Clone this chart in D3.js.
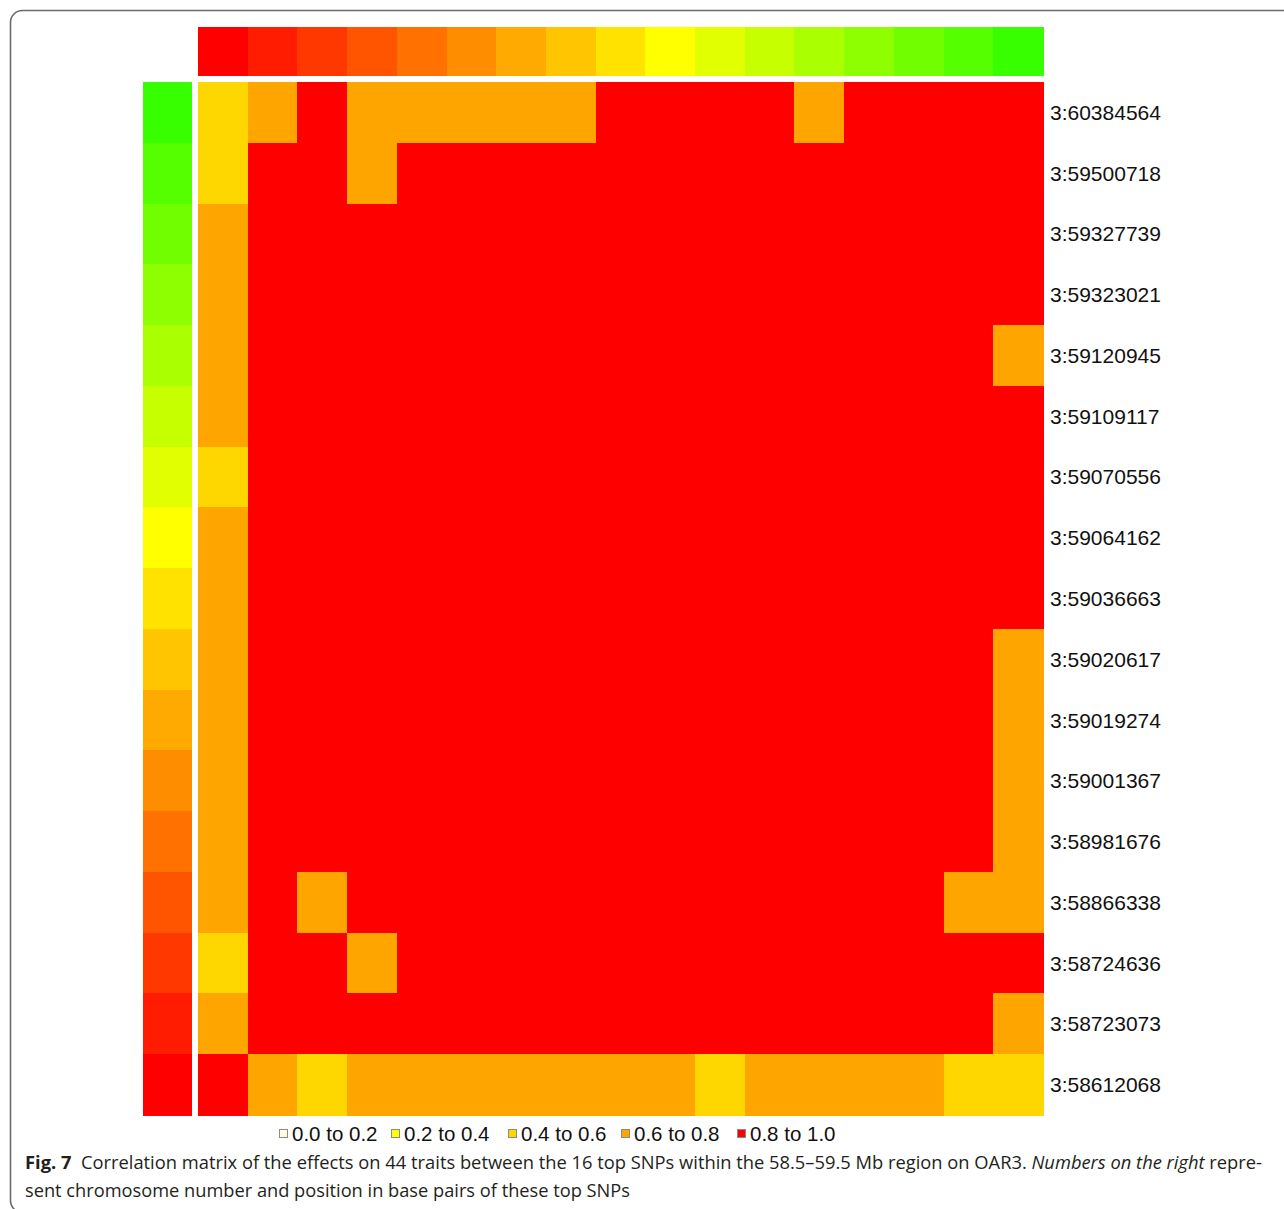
<!DOCTYPE html>
<html>
<head>
<meta charset="utf-8">
<script src="https://cdn.jsdelivr.net/npm/d3@7"></script>
<style>
  html, body { margin: 0; padding: 0; background: #fff; }
  svg { display: block; }
  .arial { font-family: "Liberation Sans", Arial, Helvetica, sans-serif; }
</style>
</head>
<body>
<svg id="chart" width="1284" height="1209"></svg>
<script>
// ---- Data ----
const snpLabels = [
  "3:60384564", "3:59500718", "3:59327739", "3:59323021", "3:59120945",
  "3:59109117", "3:59070556", "3:59064162", "3:59036663", "3:59020617",
  "3:59019274", "3:59001367", "3:58981676", "3:58866338", "3:58724636",
  "3:58723073", "3:58612068"
];
// colour key of each SNP (top bar, left to right = bottom row to top row)
const snpColors = [
  "#FF0000", "#FF1C00", "#FF3800", "#FF5500", "#FF7100", "#FF8D00",
  "#FFAA00", "#FFC600", "#FFE200", "#FFFF00", "#E2FF00", "#C6FF00",
  "#AAFF00", "#8DFF00", "#71FF00", "#55FF00", "#38FF00"
];
const binLabels = ["0.0 to 0.2", "0.2 to 0.4", "0.4 to 0.6", "0.6 to 0.8", "0.8 to 1.0"];
const binColors = ["#FFFFE0", "#FFFF00", "#FFD700", "#FFA500", "#FF0000"];
// correlation bin (index into binLabels) per row (SNP, top to bottom) and column
const corrBins = [
  [2,3,4,3,3,3,3,3,4,4,4,4,3,4,4,4,4],
  [2,4,4,3,4,4,4,4,4,4,4,4,4,4,4,4,4],
  [3,4,4,4,4,4,4,4,4,4,4,4,4,4,4,4,4],
  [3,4,4,4,4,4,4,4,4,4,4,4,4,4,4,4,4],
  [3,4,4,4,4,4,4,4,4,4,4,4,4,4,4,4,3],
  [3,4,4,4,4,4,4,4,4,4,4,4,4,4,4,4,4],
  [2,4,4,4,4,4,4,4,4,4,4,4,4,4,4,4,4],
  [3,4,4,4,4,4,4,4,4,4,4,4,4,4,4,4,4],
  [3,4,4,4,4,4,4,4,4,4,4,4,4,4,4,4,4],
  [3,4,4,4,4,4,4,4,4,4,4,4,4,4,4,4,3],
  [3,4,4,4,4,4,4,4,4,4,4,4,4,4,4,4,3],
  [3,4,4,4,4,4,4,4,4,4,4,4,4,4,4,4,3],
  [3,4,4,4,4,4,4,4,4,4,4,4,4,4,4,4,3],
  [3,4,3,4,4,4,4,4,4,4,4,4,4,4,4,3,3],
  [2,4,4,3,4,4,4,4,4,4,4,4,4,4,4,4,4],
  [3,4,4,4,4,4,4,4,4,4,4,4,4,4,4,4,3],
  [4,3,2,3,3,3,3,3,3,3,2,3,3,3,3,2,2]
];
const captionBold = "Fig. 7";
const captionLine1 = "Correlation matrix of the effects on 44 traits between the 16 top SNPs within the 58.5\u201359.5 Mb region on OAR3. ";
const captionItalic = "Numbers on the right";
const captionLine1End = " repre-";
const captionLine2 = "sent chromosome number and position in base pairs of these top SNPs";

// ---- Layout ----
const svg = d3.select("#chart");
const n = snpLabels.length;
const cols = d3.range(n);
const rows = d3.range(n);

const x = d3.scaleBand().domain(cols).range([198, 1043]);
const y = d3.scaleBand().domain(rows).range([82, 1115]);

// frame
svg.append("rect")
  .attr("x", 10.5).attr("y", 10.5)
  .attr("width", 1320).attr("height", 1202)
  .attr("rx", 12).attr("ry", 12)
  .attr("fill", "none").attr("stroke", "#6b6b6b").attr("stroke-width", 1.6);

// top colour bar
svg.append("g").attr("shape-rendering", "crispEdges").selectAll("rect")
  .data(cols).join("rect")
  .attr("x", d => x(d)).attr("y", 27)
  .attr("width", x.bandwidth() + 1).attr("height", 49)
  .attr("fill", d => snpColors[d]);

// left colour bar (top row = last colour)
svg.append("g").attr("shape-rendering", "crispEdges").selectAll("rect")
  .data(rows).join("rect")
  .attr("x", 143).attr("y", d => y(d))
  .attr("width", 49).attr("height", y.bandwidth() + 1)
  .attr("fill", d => snpColors[n - 1 - d]);

// matrix cells
const cells = [];
corrBins.forEach((row, i) => row.forEach((b, j) => cells.push({i, j, b})));
svg.append("g").attr("shape-rendering", "crispEdges").selectAll("rect")
  .data(cells).join("rect")
  .attr("x", d => x(d.j)).attr("y", d => y(d.i))
  .attr("width", x.bandwidth() + 1).attr("height", y.bandwidth() + 1)
  .attr("fill", d => binColors[d.b]);

// row labels
svg.append("g").selectAll("text")
  .data(rows).join("text")
  .attr("class", "arial")
  .attr("x", 1050).attr("y", d => y(d) + y.bandwidth() / 2 + 7.5)
  .attr("font-size", 21)
  .attr("fill", "#111")
  .text(d => snpLabels[d]);

// legend
const legendX = [279, 391, 508, 621, 737];
const lg = svg.append("g").selectAll("g")
  .data(binLabels).join("g")
  .attr("transform", (d, i) => `translate(${legendX[i]},1129)`);
lg.append("rect")
  .attr("x", 0.5).attr("y", 0.5).attr("width", 8).attr("height", 8)
  .attr("fill", (d, i) => binColors[i])
  .attr("stroke", "#8a8a8a").attr("stroke-width", 1);
lg.append("text")
  .attr("class", "arial")
  .attr("x", 13).attr("y", 12)
  .attr("font-size", 20.5)
  .attr("fill", "#111")
  .text(d => d);

// caption
const capFont = "'Open Sans', 'Noto Sans', sans-serif";
const t1 = svg.append("text")
  .attr("x", 25).attr("y", 1169)
  .attr("font-family", capFont).attr("font-size", 18).attr("fill", "#231f20")
  .attr("textLength", 1237).attr("lengthAdjust", "spacingAndGlyphs");
t1.append("tspan").attr("font-weight", "bold").text(captionBold + "\u00a0\u00a0");
t1.append("tspan").text(captionLine1);
t1.append("tspan").attr("font-style", "italic").text(captionItalic);
t1.append("tspan").text(captionLine1End);

svg.append("text")
  .attr("x", 25).attr("y", 1197)
  .attr("font-family", capFont).attr("font-size", 18).attr("fill", "#231f20")
  .attr("textLength", 605).attr("lengthAdjust", "spacingAndGlyphs")
  .text(captionLine2);
</script>
</body>
</html>
